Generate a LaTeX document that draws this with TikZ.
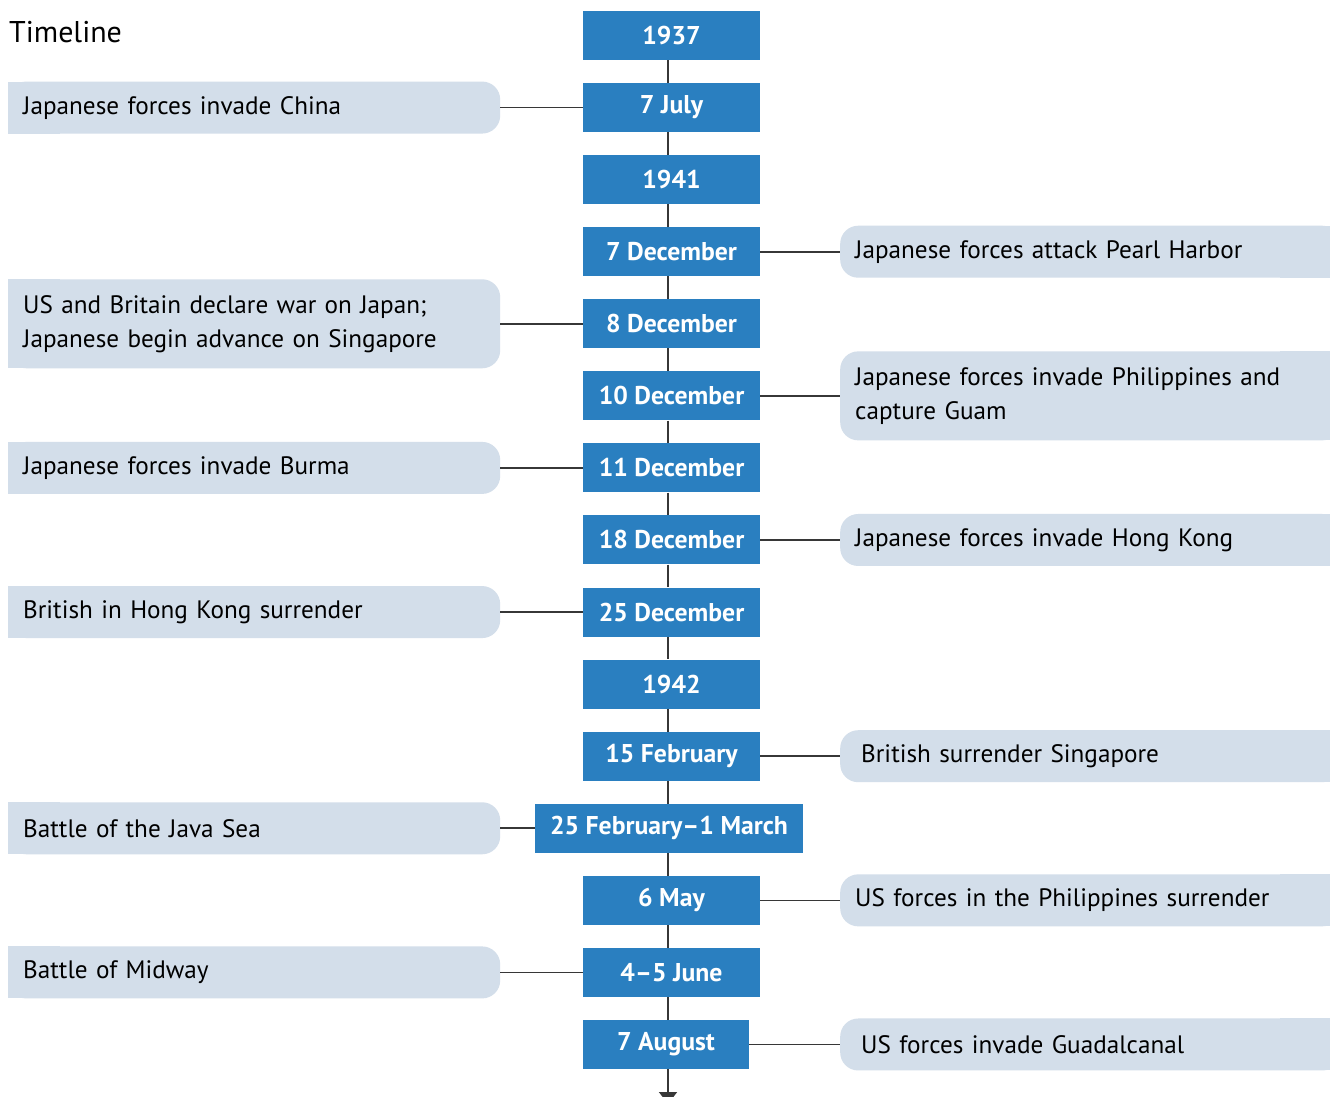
\documentclass[tikz,border=0pt]{standalone}
\usepackage{fontspec}
\setmainfont{PT Sans}
\usetikzlibrary{arrows.meta}
\definecolor{dateblue}{RGB}{42,127,192}
\definecolor{eventbg}{RGB}{211,222,234}
\definecolor{linegray}{RGB}{55,55,55}
\tikzset{
  datebox/.style={fill=dateblue, text=white, font=\fontsize{25.7}{28}\selectfont\bfseries,
    minimum width=177, minimum height=49, inner sep=0pt},
  evbox/.style={fill=eventbg, rounded corners=18, text=black,
    font=\fontsize{25.2}{34}\selectfont, align=left, inner xsep=15pt, inner ysep=0pt},
  conn/.style={draw=linegray, line width=1.7pt},
}
% row centre: y = 35.5 + 72.07 * i
\newcommand\rowy[1]{35.5+72.07*#1}
% event on the left, square on its left edge
\newcommand\leftevent[4]{%
  \fill[eventbg] (8,{\rowy{#2}-#3/2}) rectangle (60,{\rowy{#2}+#3/2});
  \node[evbox, minimum height=#3, minimum width=492, text width=462, anchor=west] (#1) at (8,{\rowy{#2}}) {#4};
}
% event on the right, square on its right edge
\newcommand\rightevent[4]{%
  \fill[eventbg] (1280,{\rowy{#2}-#3/2}) rectangle (1340,{\rowy{#2}+#3/2});
  \node[evbox, minimum height=#3, minimum width=500, text width=470, anchor=west] (#1) at (840,{\rowy{#2}}) {#4};
}
\begin{document}
\begin{tikzpicture}[x=1pt, y=-1pt]
\useasboundingbox (0,0) rectangle (1330,1097);
\fill[white] (0,0) rectangle (1330,1097);

\node[anchor=base west, inner sep=0pt, font=\fontsize{30}{34}\selectfont] (title) at (9,43) {Timeline};

% dates
\node[datebox] (d0) at (671.5,{\rowy{0}}) {1937};
\node[datebox] (d1) at (671.5,{\rowy{1}}) {7 July};
\node[datebox] (d2) at (671.5,{\rowy{2}}) {1941};
\node[datebox] (d3) at (671.5,{\rowy{3}}) {7 December};
\node[datebox] (d4) at (671.5,{\rowy{4}}) {8 December};
\node[datebox] (d5) at (671.5,{\rowy{5}}) {10 December};
\node[datebox] (d6) at (671.5,{\rowy{6}}) {11 December};
\node[datebox] (d7) at (671.5,{\rowy{7}}) {18 December};
\node[datebox] (d8) at (671.5,{\rowy{8}}) {25 December};
\node[datebox] (d9) at (671.5,{\rowy{9}}) {1942};
\node[datebox] (d10) at (671.5,{\rowy{10}}) {15 February};
\node[datebox, minimum width=268] (d11) at (669,{\rowy{11}}) {25 February--1 March};
\node[datebox] (d12) at (671.5,{\rowy{12}}) {6 May};
\node[datebox] (d13) at (671.5,{\rowy{13}}) {4--5 June};
\node[datebox, minimum width=166] (d14) at (666,{\rowy{14}}) {7 August};

% spine
\foreach \a/\b in {0/1,1/2,2/3,3/4,4/5,5/6,6/7,7/8,8/9,9/10,10/11,11/12,12/13,13/14}
  \draw[conn] (d\a.south -| 668,0) -- (d\b.north -| 668,0);
\coordinate (spineend) at (668,1104);
\draw[conn, -{Triangle[length=12pt, width=18pt]}] (d14.south -| 668,0) -- (spineend);

% events on the left
\leftevent{e1}{1}{52}{Japanese forces invade China}
\leftevent{e4}{4}{89}{US and Britain declare war on Japan;\\Japanese begin advance on Singapore}
\leftevent{e6}{6}{52}{Japanese forces invade Burma}
\leftevent{e8}{8}{52}{British in Hong Kong surrender}
\leftevent{e11}{11}{52}{Battle of the Java Sea}
\leftevent{e13}{13}{52}{Battle of Midway}

% events on the right
\rightevent{e3}{3}{52}{Japanese forces attack Pearl Harbor}
\rightevent{e5}{5}{89}{Japanese forces invade Philippines and\\capture Guam}
\rightevent{e7}{7}{52}{Japanese forces invade Hong Kong}
\rightevent{e10}{10}{52}{\hspace*{6pt}British surrender Singapore}
\rightevent{e12}{12}{52}{US forces in the Philippines surrender}
\rightevent{e14}{14}{52}{\hspace*{6pt}US forces invade Guadalcanal}

% connectors
\foreach \e in {1,4,6,8,11,13}
  \draw[conn] (e\e.east) -- (d\e.west);
\foreach \e in {3,5,7,10,12,14}
  \draw[conn] (d\e.east) -- (e\e.west);
\end{tikzpicture}
\end{document}
